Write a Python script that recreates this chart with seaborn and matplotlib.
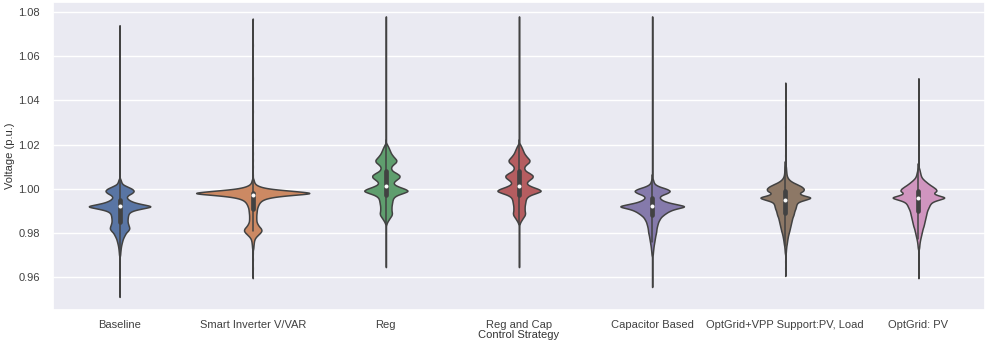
import numpy as np
import pandas as pd
import matplotlib
matplotlib.use("Agg")
import matplotlib.pyplot as plt
import seaborn as sns

strategies = ["Baseline", "Smart Inverter V/VAR", "Reg", "Reg and Cap",
              "Capacitor Based", "OptGrid+VPP Support:PV, Load", "OptGrid: PV"]

# voltage levels (p.u.) and how many samples sit at each level
levels = [1.020, 1.019, 1.018, 1.017, 1.016, 1.015, 1.014, 1.013, 1.012, 1.011,
          1.010, 1.009, 1.008, 1.007, 1.006, 1.005, 1.004, 1.003, 1.002, 1.001,
          1.000, 0.999, 0.998, 0.997, 0.996, 0.995, 0.994, 0.993, 0.992, 0.991,
          0.990, 0.989, 0.988, 0.987, 0.986, 0.985, 0.984, 0.983, 0.982, 0.981,
          0.980, 0.979, 0.978, 0.977, 0.976, 0.975, 0.974, 0.973, 0.972, 0.971,
          0.970]

baseline_counts = [0, 0, 0, 0, 0, 0, 0, 0, 0, 0,
                   0, 0, 0, 0, 0, 0, 10, 15, 25, 65,
                   110, 130, 110, 70, 60, 78, 115, 190, 310, 190,
                   110, 82, 75, 72, 70, 70, 75, 82, 88, 75,
                   55, 45, 35, 27, 22, 17, 13, 10, 8, 6,
                   5]
smart_inv_counts = [0, 0, 0, 0, 0, 0, 0, 0, 0, 0,
                    0, 0, 0, 0, 0, 0, 8, 12, 22, 55,
                    130, 330, 560, 280, 140, 85, 62, 50, 42, 36,
                    34, 32, 30, 30, 30, 32, 40, 52, 70, 76,
                    62, 42, 24, 14, 10, 8, 6, 5, 0, 0,
                    0]
reg_counts = [12, 25, 35, 45, 55, 72, 92, 115, 110, 78,
              56, 55, 70, 115, 150, 145, 110, 82, 84, 130,
              200, 250, 180, 112, 82, 72, 68, 64, 60, 60,
              60, 66, 62, 45, 30, 15, 6, 0, 0, 0,
              0, 0, 0, 0, 0, 0, 0, 0, 0, 0,
              0]
reg_cap_counts = [12, 25, 35, 45, 55, 72, 92, 115, 110, 78,
                  56, 55, 70, 115, 150, 145, 110, 82, 84, 130,
                  200, 250, 180, 112, 82, 72, 68, 64, 60, 60,
                  60, 66, 62, 45, 30, 15, 6, 0, 0, 0,
                  0, 0, 0, 0, 0, 0, 0, 0, 0, 0,
                  0]
capacitor_counts = [0, 0, 0, 0, 0, 0, 0, 0, 0, 0,
                    0, 0, 0, 0, 0, 0, 8, 12, 22, 55,
                    118, 155, 125, 72, 58, 75, 115, 195, 295, 195,
                    145, 115, 90, 70, 60, 50, 45, 40, 36, 34,
                    32, 27, 24, 21, 18, 15, 12, 10, 8, 6,
                    5]
vpp_counts = [0, 0, 0, 0, 0, 0, 0, 0, 0, 0,
              6, 7, 9, 11, 14, 22, 38, 68, 115, 160,
              185, 180, 130, 165, 275, 195, 125, 110, 105, 100,
              90, 85, 80, 70, 65, 60, 55, 50, 45, 40,
              34, 28, 24, 20, 17, 14, 10, 8, 6, 5,
              0]
pv_counts = [0, 0, 0, 0, 0, 0, 0, 0, 0, 0,
             0, 8, 13, 18, 23, 32, 52, 78, 105, 138,
             170, 185, 140, 185, 285, 195, 135, 115, 105, 95,
             85, 80, 75, 70, 65, 60, 55, 50, 42, 37,
             32, 27, 22, 17, 13, 10, 8, 6, 0, 0,
             0]

# sparse extreme samples forming the long thin tails
baseline_tail = [0.951, 0.957, 0.962, 0.966, 0.968, 1.006, 1.009, 1.011, 1.013,
                 1.016, 1.022, 1.034, 1.048, 1.062, 1.074]
smart_inv_tail = [0.9595, 0.964, 0.968, 0.971, 1.006, 1.010, 1.013, 1.016,
                  1.022, 1.035, 1.050, 1.065, 1.077]
reg_tail = [0.9645, 0.970, 0.975, 0.980, 1.022, 1.025, 1.028, 1.035, 1.048,
            1.062, 1.078]
reg_cap_tail = [0.9645, 0.970, 0.975, 0.980, 1.022, 1.025, 1.028, 1.035, 1.048,
                1.062, 1.078]
capacitor_tail = [0.9555, 0.960, 0.964, 0.967, 1.006, 1.009, 1.012, 1.015,
                  1.018, 1.026, 1.040, 1.055, 1.068, 1.078]
vpp_tail = [0.9605, 0.964, 0.967, 1.012, 1.015, 1.020, 1.028, 1.038, 1.048]
pv_tail = [0.9595, 0.963, 0.967, 0.970, 1.011, 1.014, 1.019, 1.028, 1.040, 1.050]

all_counts = [baseline_counts, smart_inv_counts, reg_counts, reg_cap_counts,
              capacitor_counts, vpp_counts, pv_counts]
all_tails = [baseline_tail, smart_inv_tail, reg_tail, reg_cap_tail,
             capacitor_tail, vpp_tail, pv_tail]

frames = []
for name, counts, tail in zip(strategies, all_counts, all_tails):
    vals = np.concatenate([np.repeat(levels, counts), np.array(tail)])
    frames.append(pd.DataFrame({"Control Strategy": name, "Voltage (p.u.)": vals}))
df = pd.concat(frames, ignore_index=True)

sns.set_theme(style="darkgrid")
plt.rcParams["font.family"] = ["Liberation Sans", "DejaVu Sans"]


def fixed_bw(kde):
    std = np.std(kde.dataset[0], ddof=1)
    return 0.0006 / std


fig, ax = plt.subplots(figsize=(9.86, 3.45), dpi=100)
sns.violinplot(data=df, x="Control Strategy", y="Voltage (p.u.)",
               hue="Control Strategy", palette="deep", legend=False,
               order=strategies, hue_order=strategies,
               cut=0, gridsize=900, bw_method=fixed_bw,
               density_norm="area", common_norm=True, width=0.85,
               linewidth=1.1, linecolor=".26", saturation=0.75,
               inner_kws=dict(box_width=3.4, whis_width=1.1, marker="o",
                              markersize=2.2),
               ax=ax)

ax.set_ylim(0.945, 1.0845)
ax.set_yticks([0.96, 0.98, 1.00, 1.02, 1.04, 1.06, 1.08])
ax.set_yticklabels(["0.96", "0.98", "1.00", "1.02", "1.04", "1.06", "1.08"])
ax.tick_params(labelsize=8, labelcolor=".25")
ax.tick_params(axis="x", pad=1)
ax.set_xlabel("Control Strategy", fontsize=8, labelpad=0, color=".2")
ax.set_ylabel("Voltage (p.u.)", fontsize=8, labelpad=2, color=".2")
fig.subplots_adjust(left=53/986, right=0.999, top=0.994, bottom=0.101)
fig.savefig("out.png", dpi=100)
